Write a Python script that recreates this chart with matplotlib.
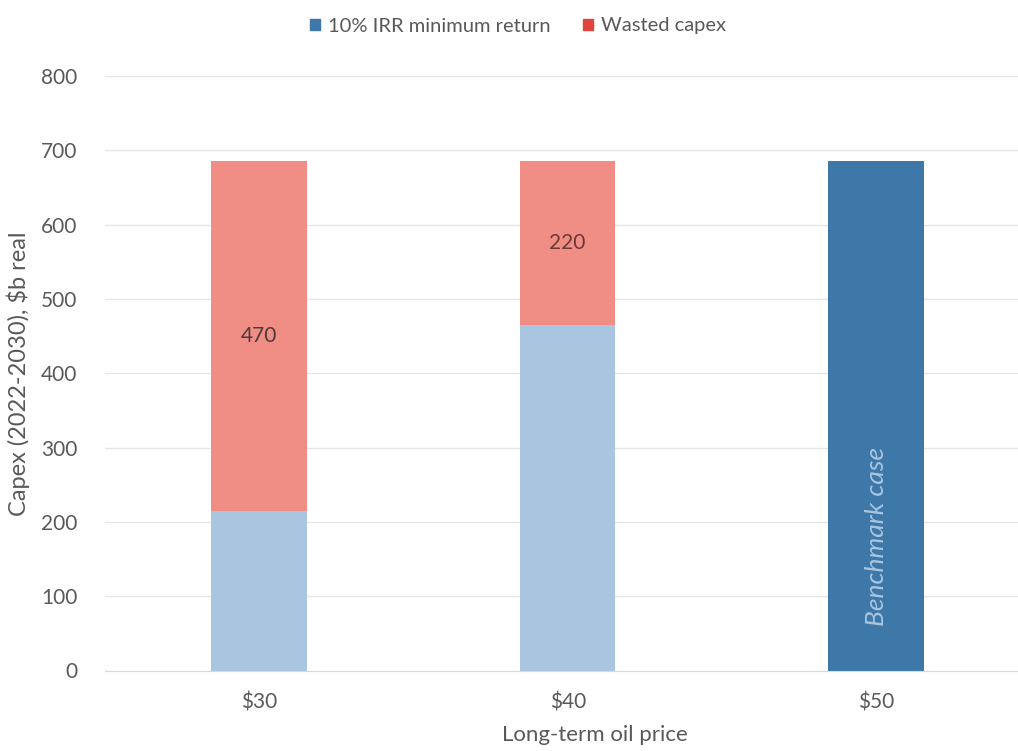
import matplotlib.pyplot as plt
from matplotlib.patches import Patch

plt.rcParams['font.family'] = ['Lato', 'DejaVu Sans']

prices = ['$30', '$40', '$50']
min_return = [215, 465, 685]
wasted = [470, 220, 0]
wasted_labels = ['470', '220', '']

dark_blue = '#3D78A9'
light_blue = '#A9C5DF'
salmon = '#F08E86'
legend_red = '#E0443C'
text_gray = '#595959'

fig = plt.figure(figsize=(10.18, 7.51), dpi=100)
ax = fig.add_axes([105 / 1018, (751 - 670.5) / 751, 913 / 1018, 594.5 / 751])

x = range(len(prices))
base_colors = [light_blue, light_blue, dark_blue]
ax.bar(x, min_return, width=0.31, color=base_colors, zorder=2)
ax.bar(x, wasted, width=0.31, bottom=min_return, color=salmon, zorder=2)

# value labels in the middle of the red segment
for i, (b, w, lab) in enumerate(zip(min_return, wasted, wasted_labels)):
    if lab:
        ax.text(i, b + w * 0.5, lab, ha='center', va='center',
                fontsize=15, color='#6B3A36' if i == 1 else '#4A3A3A', zorder=3)

ax.text(2, 180, 'Benchmark case', rotation=90, ha='center', va='center',
        fontsize=19, style='italic', color=light_blue, zorder=3)

ax.set_ylim(0, 800)
ax.set_yticks(range(0, 801, 100))
ax.set_xlim(-0.5, 2.46)
ax.set_xticks(list(x))
ax.set_xticklabels(prices)
ax.tick_params(length=0, labelsize=15, colors=text_gray, pad=16)
ax.tick_params(axis='y', pad=20)
ax.grid(axis='y', color='#E6E6E6', linewidth=1, zorder=0)
for s in ['top', 'right', 'left']:
    ax.spines[s].set_visible(False)
ax.spines['bottom'].set_color('#D9D9D9')

ax.set_ylabel('Capex (2022-2030), $b real', fontsize=17, color=text_gray, labelpad=8)
fig.text(595 / 1018, 1 - 735 / 751, 'Long-term oil price', ha='center', va='center',
         fontsize=16, color=text_gray)

handles = [Patch(color=dark_blue, label='10% IRR minimum return'),
           Patch(color=legend_red, label='Wasted capex')]
fig.legend(handles=handles, loc='center', bbox_to_anchor=(518 / 1018, 1 - 26 / 751), ncol=2,
           frameon=False, fontsize=14.5, labelcolor=text_gray, handlelength=0.5, handleheight=0.5,
           handletextpad=0.4, columnspacing=1.6)

fig.savefig('out.png', dpi=100)
